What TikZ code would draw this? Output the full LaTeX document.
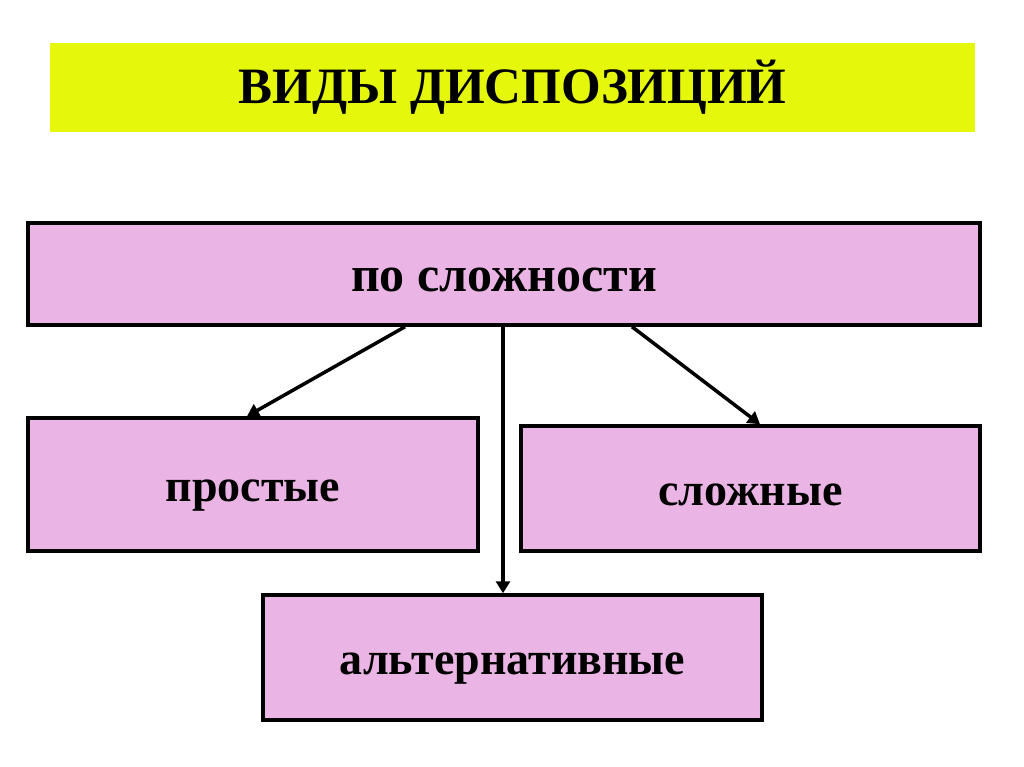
\documentclass[tikz,border=0pt]{standalone}
\usepackage{fontspec}
\setmainfont{Liberation Serif}
\usetikzlibrary{arrows.meta}
\definecolor{titleyellow}{RGB}{229,248,12}
\definecolor{boxpink}{RGB}{234,180,228}

\begin{document}
\begin{tikzpicture}[x=1pt, y=-1pt,
    box/.style={draw=black, line width=3.5pt, fill=boxpink, inner sep=0pt,
      text height=33pt, text depth=0pt, font=\fontsize{46}{50}\selectfont\bfseries},
    link/.style={line width=3.5pt, -{Triangle[length=12pt,width=14pt]}}]
  \useasboundingbox[fill=white] (0,0) rectangle (1024,767);

  % Title
  \node (H) at (512.5,87.5) [fill=titleyellow, minimum width=925pt, minimum height=89pt,
    font=\fontsize{51}{55}\selectfont\bfseries]{ВИДЫ ДИСПОЗИЦИЙ};

  % Boxes
  \node (T) at (504,274) [box, minimum width=952pt, minimum height=102pt, text height=35pt,
    font=\fontsize{50}{54}\selectfont\bfseries]{по сложности};
  \node (P) at (253,484.5) [box, minimum width=450pt, minimum height=133pt]{простые};
  \node (S) at (750.5,488.5) [box, minimum width=459pt, minimum height=125pt]{сложные};
  \node (A) at (512.5,657.5) [box, minimum width=499pt, minimum height=125pt]{альтернативные};

  % Arrows
  \draw[link] ([xshift=-99pt]T.south) -- ([xshift=-6pt]P.north);
  \draw[link] ([xshift=128pt]T.south) -- ([xshift=9.5pt]S.north);
  \draw[link] ([xshift=-1pt]T.south) -- ([xshift=-9.5pt]A.north);
\end{tikzpicture}
\end{document}
